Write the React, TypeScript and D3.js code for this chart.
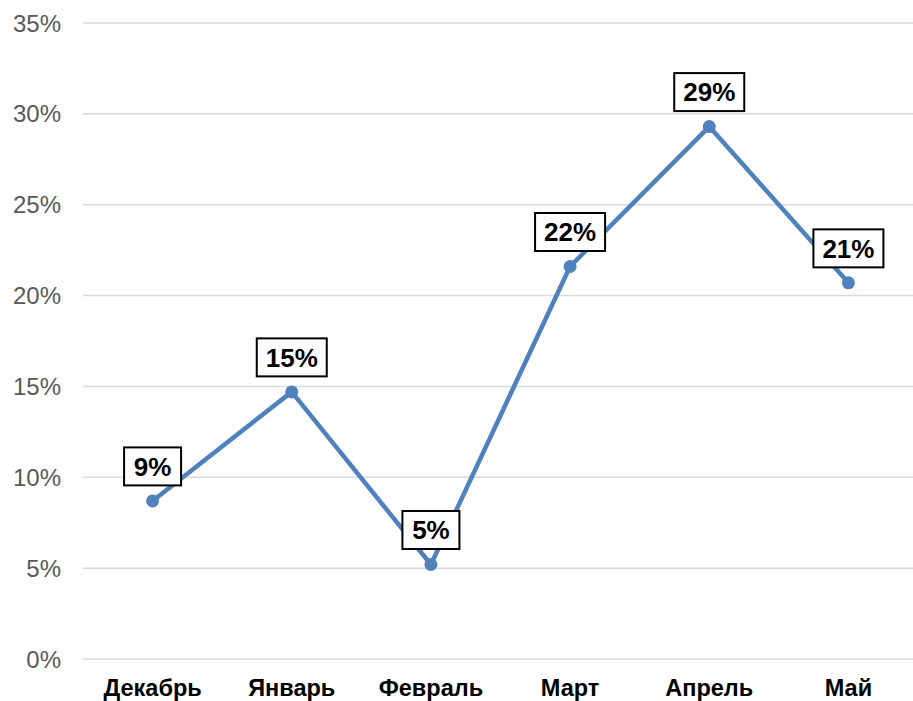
import React from "react";
import * as d3 from "d3";

const categories = ["Декабрь", "Январь", "Февраль", "Март", "Апрель", "Май"];
const values = [0.087, 0.147, 0.052, 0.216, 0.293, 0.207];
const labels = ["9%", "15%", "5%", "22%", "29%", "21%"];
const yTicks = [0, 0.05, 0.1, 0.15, 0.2, 0.25, 0.3, 0.35];

const W = 913;
const H = 701;
const left = 83;
const top = 23;
const bottom = 659;

export default function App() {
  const x = d3.scalePoint<string>().domain(categories).range([left, 918]).padding(0.5);
  const y = d3.scaleLinear().domain([0, 0.35]).range([bottom, top]);
  const line = d3
    .line<number>()
    .x((_, i) => x(categories[i])!)
    .y((d) => y(d));
  const fmt = d3.format(".0%");
  return (
    <svg
      width={W}
      height={H}
      style={{ position: "absolute", left: 0, top: 0, background: "#fff" }}
      fontFamily="'Liberation Sans', Arial, sans-serif"
    >
      {yTicks.map((t) => (
        <g key={t}>
          <line x1={left} x2={W} y1={y(t)} y2={y(t)} stroke="#d9d9d9" strokeWidth={1.5} />
          <text x={61} y={y(t)} dy="0.36em" textAnchor="end" fontSize={24} fill="#595959">
            {fmt(t)}
          </text>
        </g>
      ))}
      {categories.map((c) => (
        <text key={c} x={x(c)} y={688} dy="0.36em" textAnchor="middle" fontSize={23.5} fontWeight="bold" fill="#000">
          {c}
        </text>
      ))}
      <path d={line(values)!} fill="none" stroke="#4f81bd" strokeWidth={4.5} strokeLinejoin="round" />
      {values.map((v, i) => (
        <circle key={i} cx={x(categories[i])} cy={y(v)} r={6.5} fill="#4f81bd" />
      ))}
      {values.map((v, i) => {
        const cx = x(categories[i])!;
        const cy = y(v) - 34.5;
        const w = labels[i].length === 2 ? 57 : 70;
        const h = 38;
        return (
          <g key={"l" + i}>
            <rect x={cx - w / 2} y={cy - h / 2} width={w} height={h} fill="#fff" stroke="#000" strokeWidth={2} />
            <text x={cx} y={cy} dy="0.36em" textAnchor="middle" fontSize={26} fontWeight="bold" fill="#000">
              {labels[i]}
            </text>
          </g>
        );
      })}
    </svg>
  );
}
